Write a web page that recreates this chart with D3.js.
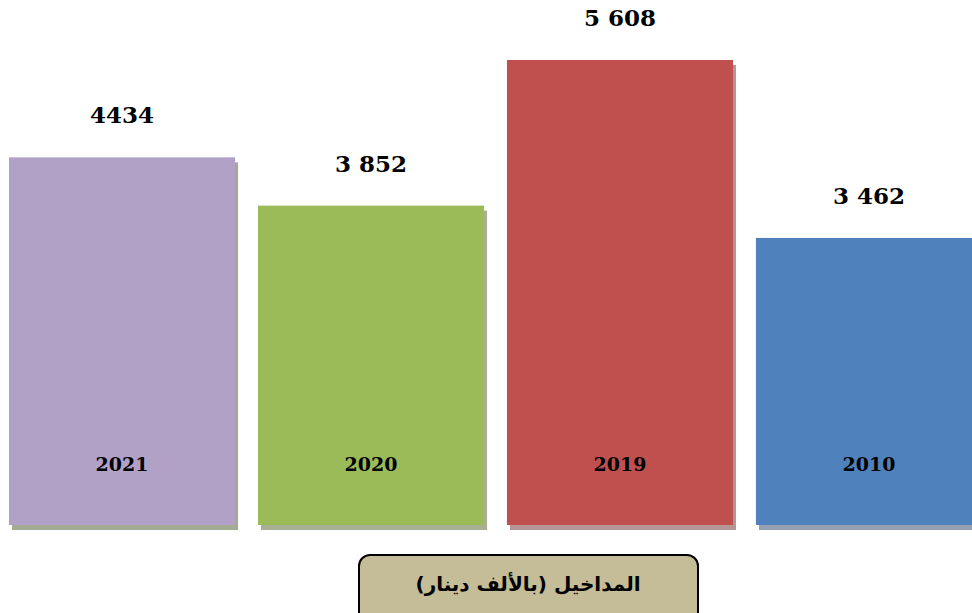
<!DOCTYPE html>
<html lang="ar">
<head>
	<meta charset="utf-8">
	<title>المداخيل (بالألف دينار)</title>
	<script src="https://cdn.jsdelivr.net/npm/d3@7"></script>
	<style>
		body { margin: 0; background: #fff; }
		.val { font-family: "DejaVu Serif", serif; font-weight: bold; font-size: 23px; fill: #000; }
		.year { font-family: "DejaVu Serif", serif; font-weight: bold; font-size: 19px; fill: #000; }
		.caption { font-family: "DejaVu Sans", sans-serif; font-weight: bold; font-size: 20px; fill: #000; }
	</style>
</head>
<body>
	<script>
		// data
		var years = ["2021", "2020", "2019", "2010"];
		var values = [4434, 3852, 5608, 3462];
		var valueLabels = ["4434", "3 852", "5 608", "3 462"];
		var colors = ["#b2a1c7", "#9bbb59", "#c0504d", "#4f81bd"];
		var shadows = ["#a4ab93", "#a8b094", "#b59595", "#96a0b1"];
		var caption = "المداخيل (بالألف دينار)";

		var w = 972;
		var h = 613;
		var base = 525;

		var svg = d3.select("body")
			.append("svg")
			.attr("width", w)
			.attr("height", h);

		var x = d3.scaleBand()
			.domain(years)
			.range([9, 982])
			.paddingInner(0.092)
			.paddingOuter(0);

		var y = d3.scaleLinear()
			.domain([0, d3.max(values)])
			.range([base, 60]);

		var bars = svg.selectAll("g.bar")
			.data(years)
			.enter()
			.append("g")
			.attr("class", "bar");

		// shadow
		bars.append("rect")
			.attr("x", function (d) { return x(d) + 3; })
			.attr("y", function (d, i) { return y(values[i]) + 5; })
			.attr("width", x.bandwidth())
			.attr("height", function (d, i) { return base - y(values[i]); })
			.attr("fill", function (d, i) { return shadows[i]; });

		bars.append("rect")
			.attr("x", function (d) { return x(d); })
			.attr("y", function (d, i) { return y(values[i]); })
			.attr("width", x.bandwidth())
			.attr("height", function (d, i) { return base - y(values[i]); })
			.attr("fill", function (d, i) { return colors[i]; });

		// value labels
		bars.append("text")
			.attr("class", "val")
			.attr("text-anchor", "middle")
			.attr("x", function (d) { return x(d) + x.bandwidth() / 2; })
			.attr("y", function (d, i) { return y(values[i]) - 34; })
			.text(function (d, i) { return valueLabels[i]; });

		// year labels
		bars.append("text")
			.attr("class", "year")
			.attr("text-anchor", "middle")
			.attr("x", function (d) { return x(d) + x.bandwidth() / 2; })
			.attr("y", base - 54)
			.text(function (d) { return d; });

		// caption box
		svg.append("rect")
			.attr("x", 359)
			.attr("y", 555)
			.attr("width", 339)
			.attr("height", 68)
			.attr("rx", 11)
			.attr("fill", "#c4bd97")
			.attr("stroke", "#000")
			.attr("stroke-width", 2);

		svg.append("text")
			.attr("class", "caption")
			.attr("text-anchor", "middle")
			.attr("direction", "rtl")
			.attr("x", 528)
			.attr("y", 591)
			.text(caption);
	</script>
</body>
</html>
